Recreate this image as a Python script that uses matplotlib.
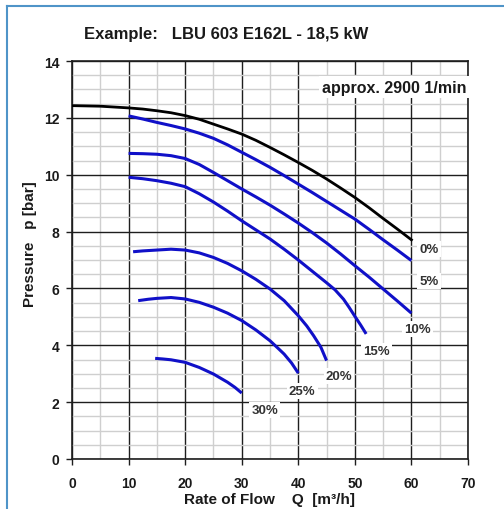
"""Kennlinie einer Pumpe mit Drosselkurven (Beispiel LBU 603 E162L)."""

import matplotlib

matplotlib.use("Agg")

import matplotlib.pyplot as plt
from matplotlib.lines import Line2D
from matplotlib.ticker import MultipleLocator

plt.rcParams["font.family"] = ["Liberation Sans", "DejaVu Sans"]
plt.rcParams["font.weight"] = "bold"

# Kennlinie 0 % und Drosselkurven (Q in m³/h, p in bar)
q_0 = [0, 5, 10, 12.5, 15, 17.5, 20, 22.5, 25, 27.5, 30, 32.5, 35, 37.5, 40,
       42.5, 45, 47.5, 50, 52.5, 55, 57.5, 60]
p_0 = [12.43, 12.41, 12.35, 12.31, 12.25, 12.18, 12.08, 11.95, 11.78, 11.61, 11.43, 11.21,
       10.96, 10.70, 10.43, 10.15, 9.85, 9.53, 9.20, 8.84, 8.46, 8.09, 7.71]

q_5 = [10, 12.5, 15, 17.5, 20, 22.5, 25, 27.5, 30, 32.5, 35, 37.5, 40, 42.5, 45,
       47.5, 50, 52.5, 55, 57.5, 60]
p_5 = [12.07, 11.96, 11.84, 11.73, 11.61, 11.46, 11.28, 11.05, 10.79, 10.53, 10.26, 9.97,
       9.67, 9.37, 9.06, 8.75, 8.44, 8.08, 7.71, 7.35, 6.98]

q_10 = [10, 12.5, 15, 17.5, 20, 22.5, 25, 27.5, 30, 32.5, 35, 37.5, 40, 42.5, 45,
        47.5, 50, 52.5, 55, 57.5, 60]
p_10 = [10.75, 10.74, 10.72, 10.67, 10.57, 10.36, 10.08, 9.79, 9.50, 9.22, 8.93, 8.62,
        8.30, 7.96, 7.60, 7.21, 6.80, 6.40, 5.98, 5.56, 5.13]

q_15 = [10, 12.5, 15, 17.5, 20, 22.5, 25, 27.5, 30, 32.5, 35, 37.5, 40, 42.5, 45,
        46.5, 48, 49, 50, 51, 52]
p_15 = [9.91, 9.86, 9.79, 9.70, 9.58, 9.33, 9.04, 8.72, 8.38, 8.06, 7.74, 7.38, 7.00,
        6.60, 6.20, 5.95, 5.62, 5.33, 5.02, 4.72, 4.40]

q_20 = [10.8, 12.5, 15, 17.5, 20, 22.5, 25, 27.5, 30, 32.5, 35, 37.5, 40, 41.5, 42.7, 44, 45]
p_20 = [7.29, 7.32, 7.35, 7.38, 7.35, 7.25, 7.09, 6.88, 6.62, 6.32, 5.98, 5.57, 5.04,
        4.68, 4.34, 3.93, 3.46]

q_25 = [11.7, 13.5, 15, 17.5, 20, 22.5, 25, 27.5, 30, 32.5, 35, 36.5, 37.5, 38.8, 40]
p_25 = [5.57, 5.62, 5.65, 5.68, 5.63, 5.51, 5.34, 5.13, 4.87, 4.54, 4.16, 3.88, 3.69,
        3.38, 3.02]

q_30 = [14.7, 16, 17.5, 20, 22.5, 25, 27.5, 28.8, 30]
p_30 = [3.54, 3.52, 3.49, 3.40, 3.22, 2.99, 2.70, 2.52, 2.32]

curve_labels = ["0%", "5%", "10%", "15%", "20%", "25%", "30%"]
label_q = [63.1, 63.1, 61.0, 53.9, 47.2, 40.7, 34.1]
label_p = [7.39, 6.26, 4.57, 3.80, 2.92, 2.39, 1.72]

fig = plt.figure(figsize=(5.04, 5.10), dpi=100)
ax = fig.add_axes([72 / 504, 50 / 510, 396 / 504, 398 / 510])

blue = "#1010c8"
ax.plot(q_0, p_0, color="black", lw=2.0, solid_joinstyle="round", zorder=3)
for q, p in [(q_5, p_5), (q_10, p_10), (q_15, p_15), (q_20, p_20), (q_25, p_25), (q_30, p_30)]:
    ax.plot(q, p, color=blue, lw=2.2, solid_joinstyle="round", solid_capstyle="butt", zorder=3)

for text, q, p in zip(curve_labels, label_q, label_p):
    ax.text(q, p, text, fontsize=9.5, color="#333333", ha="center", va="center", zorder=4,
            bbox=dict(facecolor="white", edgecolor="none", pad=1.5))

ax.text(69.8, 13.08, "approx. 2900 1/min", fontsize=11.5, color="#1a1a1a", ha="right", va="center",
        zorder=4, bbox=dict(facecolor="white", edgecolor="none", pad=2.5))

ax.set_xlim(0, 70)
ax.set_ylim(0, 14)
ax.xaxis.set_major_locator(MultipleLocator(10))
ax.xaxis.set_minor_locator(MultipleLocator(5))
ax.yaxis.set_major_locator(MultipleLocator(2))
ax.yaxis.set_minor_locator(MultipleLocator(0.5))
ax.set_axisbelow(True)
ax.grid(which="minor", color="#cfcfcf", lw=1.0)
ax.grid(which="major", color="#1e1e1e", lw=1.0)
ax.tick_params(which="minor", length=0)
ax.tick_params(which="major", length=4, width=1.0, color="#1e1e1e", labelsize=10, labelcolor="#1a1a1a")
ax.tick_params(axis="x", pad=8)
ax.tick_params(axis="y", pad=5)
for spine in ax.spines.values():
    spine.set_color("#1e1e1e")
    spine.set_linewidth(1.2)

fig.text(226 / 504, 1 - 34 / 510, "Example:   LBU 603 E162L - 18,5 kW", fontsize=12, color="#1a1a1a",
         ha="center", va="center")
fig.text(269 / 504, 1 - 500 / 510, "Rate of Flow    Q  [m³/h]", fontsize=11, color="#1a1a1a",
         ha="center", va="center")
fig.text(30 / 504, 1 - 244 / 510, "Pressure   p [bar]", fontsize=11, color="#1a1a1a",
         ha="center", va="center", rotation=90)

# hellblauer Rahmen (oben und links sichtbar)
frame = "#4f94c8"
fig.add_artist(Line2D([7 / 504, 1], [1 - 6.5 / 510] * 2, color=frame, lw=1.5))
fig.add_artist(Line2D([7 / 504] * 2, [0, 1 - 6.5 / 510], color=frame, lw=1.5))

fig.savefig("out.png", dpi=100)
plt.close(fig)
